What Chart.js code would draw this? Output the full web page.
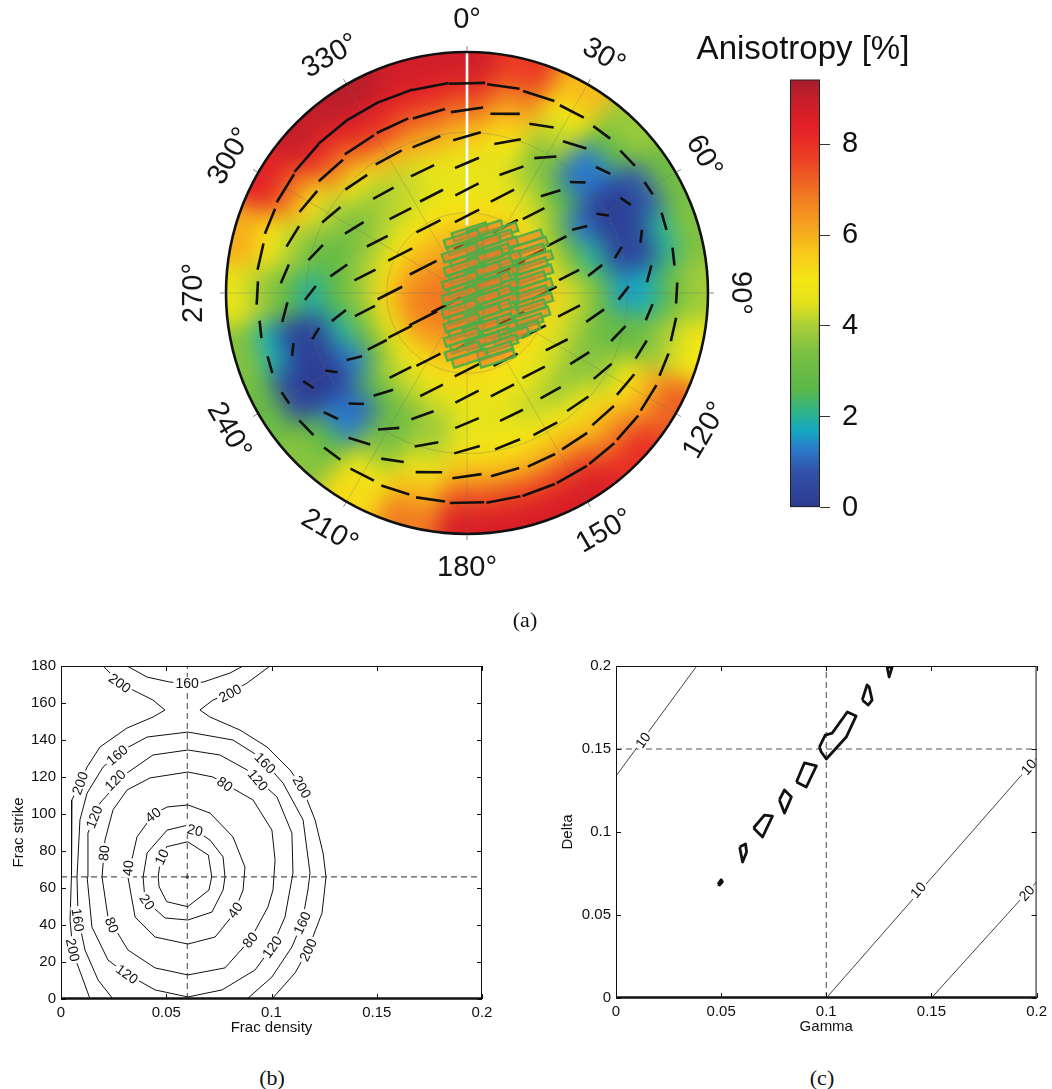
<!DOCTYPE html>
<html>
<head>
<meta charset="utf-8">
<script src="https://cdn.jsdelivr.net/npm/chart.js@4.4.1/dist/chart.umd.min.js"></script>
<style>
  html, body { margin: 0; padding: 0; background: #fff; }
  body { width: 1052px; height: 1089px; position: relative; overflow: hidden; font-family: "Liberation Sans", Arial, sans-serif; }
  canvas { position: absolute; }
  .cap { position: absolute; font-family: "Liberation Serif", "DejaVu Serif", serif; font-size: 22px; color: #111; transform: translate(-50%, -50%); line-height: 1; }
  .cbtitle { position: absolute; left: 803px; top: 47px; transform: translate(-50%, -50%); font-size: 33px; line-height: 1; color: #111; white-space: nowrap; }
</style>
</head>
<body>
<canvas id="polar" width="640" height="640" style="left:147px;top:-27px"></canvas>
<div class="cbtitle">Anisotropy [%]</div>
<canvas id="cbar" width="110" height="487" style="left:780px;top:50px"></canvas>
<canvas id="panelB" width="500" height="401" style="left:0px;top:640px"></canvas>
<canvas id="panelC" width="496" height="400" style="left:556px;top:640px"></canvas>
<div class="cap" style="left:525px;top:620px">(a)</div>
<div class="cap" style="left:272px;top:1078px">(b)</div>
<div class="cap" style="left:822px;top:1078px">(c)</div>

<script>
// ---------- data: panel (a) ----------
// anisotropy [%], one row per azimuth (0..345 step 15),
// columns = incidence rings at r = 0.05 .. 0.95 (fraction of plot radius)
const fieldAz = [0, 15, 30, 45, 60, 75, 90, 105, 120, 135, 150, 165, 180, 195, 210, 225, 240, 255, 270, 285, 300, 315, 330, 345];
const fieldR = [0.05, 0.15, 0.25, 0.35, 0.45, 0.55, 0.65, 0.75, 0.85, 0.95];
const anisoByAzimuth = [
  [6.9, 6.5, 5.8, 5.1, 4.7, 4.7, 5.6, 6.8, 8.0, 8.8],
  [6.9, 6.5, 6.0, 5.2, 4.7, 4.5, 5.0, 5.8, 6.9, 7.8],
  [7.0, 6.7, 6.1, 5.2, 4.5, 3.8, 3.4, 4.2, 5.0, 5.8],
  [7.0, 6.8, 6.3, 5.1, 4.1, 2.8, 1.2, 1.3, 3.0, 3.8],
  [7.0, 6.9, 6.4, 4.9, 3.2, 1.2, 0.2, 0.2, 0.9, 3.2],
  [7.0, 6.9, 6.6, 5.1, 3.5, 2.0, 0.4, 0.4, 2.0, 3.5],
  [7.0, 6.9, 6.6, 5.4, 4.3, 3.2, 1.6, 1.8, 3.0, 3.9],
  [7.0, 6.8, 6.4, 5.2, 4.2, 3.3, 2.9, 3.1, 4.0, 4.9],
  [6.9, 6.6, 6.0, 5.0, 4.2, 3.5, 3.8, 5.0, 6.0, 7.2],
  [6.9, 6.4, 5.8, 5.0, 4.4, 3.7, 4.6, 5.6, 6.8, 8.0],
  [6.9, 6.4, 5.7, 5.0, 4.6, 4.2, 5.0, 6.0, 7.6, 8.6],
  [6.9, 6.4, 5.7, 5.1, 4.7, 4.5, 5.0, 5.8, 7.5, 8.6],
  [6.9, 6.4, 5.8, 5.2, 4.7, 4.6, 4.9, 5.8, 7.4, 8.6],
  [6.9, 6.5, 6.0, 5.2, 4.5, 3.9, 4.0, 4.8, 5.8, 6.8],
  [7.0, 6.7, 6.1, 5.0, 4.3, 3.4, 3.1, 3.6, 4.8, 5.2],
  [7.0, 6.8, 6.3, 5.0, 4.1, 2.8, 1.1, 1.3, 2.8, 3.6],
  [7.0, 6.9, 6.4, 4.8, 3.1, 1.3, 0.2, 0.1, 0.5, 3.0],
  [7.0, 6.9, 6.6, 5.1, 3.5, 2.0, 0.4, 0.3, 1.8, 3.5],
  [7.0, 6.9, 6.5, 5.2, 3.8, 2.7, 1.9, 2.8, 3.8, 4.6],
  [7.0, 6.8, 6.3, 5.1, 3.9, 2.9, 3.0, 4.0, 5.0, 6.0],
  [6.9, 6.6, 6.0, 5.0, 3.8, 3.3, 4.0, 5.2, 7.0, 8.3],
  [6.9, 6.5, 5.8, 5.0, 4.1, 3.8, 4.8, 6.8, 8.2, 9.0],
  [6.9, 6.5, 5.8, 5.0, 4.3, 4.2, 5.8, 7.6, 8.5, 9.2],
  [6.9, 6.5, 5.8, 5.0, 4.6, 4.6, 6.0, 7.2, 8.3, 8.8]
];

// fast-direction ticks: rings of the plotting grid, azimuth step and first azimuth on each ring
const dashRings = [0.87, 0.76, 0.65, 0.54, 0.43, 0.32, 0.21, 0.10];
const dashStep = [10, 12, 15, 20, 20, 30, 60, 180];
const dashStart = [0, 0, 0, 0, 0, 0, 0, 60];
const dashPull = [0.05, 0.3, 0.6, 0.85, 1, 1, 1, 1]; // how far ticks turn toward the fracture strike
const fracStrike = 63;

// observed samples (green boxes), x/y in plot radius units
const sampleRects = [
  [0.012, 0.253], [0.137, 0.253], [0.075, 0.262],
  [-0.021, 0.224], [0.116, 0.224], [0.241, 0.224],
  [-0.008, 0.195], [0.137, 0.195], [0.261, 0.195], [0.066, 0.205],
  [-0.029, 0.166], [0.104, 0.166], [0.249, 0.166],
  [0.004, 0.137], [0.149, 0.137], [0.282, 0.137], [0.075, 0.148],
  [-0.021, 0.108], [0.116, 0.108], [0.261, 0.108],
  [0.000, 0.079], [0.137, 0.079], [0.282, 0.079], [0.066, 0.090],
  [-0.029, 0.050], [0.108, 0.050], [0.253, 0.050],
  [-0.004, 0.021], [0.137, 0.021], [0.282, 0.021], [0.070, 0.032],
  [-0.029, -0.008], [0.112, -0.008], [0.261, -0.008],
  [-0.008, -0.037], [0.137, -0.037], [0.282, -0.037], [0.062, -0.026],
  [-0.029, -0.066], [0.108, -0.066], [0.253, -0.066],
  [-0.004, -0.095], [0.137, -0.095], [0.270, -0.095], [0.066, -0.084],
  [-0.021, -0.124], [0.116, -0.124], [0.241, -0.124],
  [-0.004, -0.154], [0.137, -0.154], [0.228, -0.154], [0.058, -0.143],
  [-0.021, -0.183], [0.108, -0.183], [0.183, -0.180],
  [0.004, -0.212], [0.137, -0.212], [0.066, -0.200],
  [-0.017, -0.241], [0.116, -0.241],
  [0.012, -0.270], [0.124, -0.270]
];
const rectTilt = -18;
const markerLine = [[0, 0.28], [0, 1.0]]; // white line along 0 deg

const polarTicks = [0, 30, 60, 90, 120, 150, 180, 210, 240, 270, 300, 330];

// colour scale
const cbMax = 9.43;
const cbTicks = [0, 2, 4, 6, 8];
const cmapStops = [
  [0.0, [43, 58, 143]], [0.8, [49, 82, 168]], [1.3, [42, 124, 204]], [1.7, [21, 169, 194]],
  [2.1, [47, 179, 138]], [2.6, [90, 184, 73]], [3.4, [120, 191, 66]], [4.0, [169, 207, 56]],
  [4.5, [227, 226, 28]], [5.0, [245, 230, 20]], [5.6, [248, 201, 26]], [6.3, [245, 156, 31]],
  [7.0, [240, 112, 34]], [7.7, [236, 62, 36]], [8.4, [227, 31, 38]], [9.0, [198, 31, 42]],
  [9.5, [166, 29, 43]]
];

// ---------- data: panel (b) ----------
const bDensity = 0.06, bStrike = 66;
const bC10 = [[0.0602,85.0],[0.0700,77.8],[0.0716,66.1],[0.0703,58.9],[0.0602,49.9],[0.0502,52.6],[0.0466,60.7],[0.0462,66.1],[0.0470,73.5],[0.0502,82.3],[0.0602,85.0]];
const bC20 = [[0.0603,94.0],[0.0708,85.9],[0.0770,76.8],[0.0779,65.9],[0.0770,58.9],[0.0717,47.0],[0.0603,42.7],[0.0494,43.8],[0.0399,53.5],[0.0390,65.9],[0.0409,78.9],[0.0504,91.3],[0.0603,94.0]];
const bC40 = [[0.0603,104.9],[0.0708,100.5],[0.0817,87.6],[0.0874,71.3],[0.0865,58.9],[0.0817,45.4],[0.0732,33.5],[0.0603,29.7],[0.0447,33.5],[0.0352,44.3],[0.0318,65.9],[0.0361,87.6],[0.0437,99.5],[0.0504,103.8],[0.0603,104.9]];
const bC80 = [[0.0603,122.7],[0.0722,120.0],[0.0912,107.6],[0.1002,91.3],[0.1017,75.1],[0.1007,58.9],[0.0983,49.7],[0.0898,31.9],[0.0779,16.8],[0.0603,13.0],[0.0447,16.8],[0.0318,26.5],[0.0223,44.3],[0.0195,65.9],[0.0209,85.9],[0.0247,102.2],[0.0314,113.0],[0.0423,119.5],[0.0603,122.7]];
const bC120 = [[0.0603,134.6],[0.0755,131.9],[0.0884,123.8],[0.1026,109.2],[0.1097,89.7],[0.1102,68.1],[0.1064,44.3],[0.1002,28.1],[0.0922,15.7],[0.0765,4.9],[0.0603,1.1],[0.0447,4.9],[0.0304,14.1],[0.0223,21.1],[0.0147,38.9],[0.0124,65.9],[0.0128,89.7],[0.0185,105.9],[0.0314,122.2],[0.0437,131.9],[0.0603,134.6]];
const bC160 = [[0.0247,0],[0.0176,10.3],[0.0114,26.5],[0.0081,44.3],[0.0076,65.9],[0.0090,96.8],[0.0124,111.3],[0.0200,125.4],[0.0295,134.6],[0.0409,141.6],[0.0603,144.3],[0.0817,140.0],[0.0945,130.8],[0.1055,116.7],[0.1150,96.8],[0.1183,68.1],[0.1173,58.9],[0.1145,41.1],[0.1097,28.1],[0.1002,11.9],[0.0884,0]];
const bC160top = [[0.0314,180],[0.0409,174.0],[0.0518,171.3],[0.0599,170.8],[0.0675,171.3],[0.0803,176.2],[0.0865,180]];
const bC200left = [[0.0200,180],[0.0233,176.2],[0.0280,170.8],[0.0342,167.0],[0.0437,161.6],[0.0494,156.2],[0.0437,152.4],[0.0314,146.5],[0.0185,136.2],[0.0124,125.4],[0.0090,116.7],[0.0052,107.6],[0.0048,85.9],[0.0052,68.1],[0.0043,42.7],[0.0057,24.9],[0.0100,11.9],[0.0138,0]];
const bC200right = [[0.0993,180],[0.0884,170.8],[0.0803,165.4],[0.0722,161.6],[0.0660,156.2],[0.0708,152.4],[0.0850,145.4],[0.0979,136.2],[0.1088,123.8],[0.1145,114.6],[0.1207,96.8],[0.1245,78.9],[0.1259,65.9],[0.1240,46.5],[0.1173,26.5],[0.1112,14.1],[0.1002,0]];
const bLabels = [
  ['200', 0.0280, 170.8, 35], ['160', 0.0599, 170.8, 0], ['200', 0.0803, 165.4, -28],
  ['160', 0.0266, 131.9, -40], ['120', 0.0257, 118.4, -45], ['200', 0.0090, 116.7, -70], ['120', 0.0157, 98.4, -68],
  ['40', 0.0437, 99.5, -38], ['20', 0.0637, 91.3, 14], ['10', 0.0478, 76.8, -65], ['80', 0.0204, 78.9, -85], ['40', 0.0318, 70.8, -85],
  ['80', 0.0779, 116.2, 35], ['120', 0.0936, 118.4, 50], ['160', 0.0970, 127.6, 45], ['200', 0.1145, 114.6, 60],
  ['20', 0.0410, 52.5, 55], ['80', 0.0242, 40.0, 68], ['160', 0.0081, 42.7, 82], ['200', 0.0057, 26.5, 78], ['120', 0.0314, 13.5, 35],
  ['40', 0.0827, 48.1, -55], ['80', 0.0898, 31.9, -50], ['120', 0.1002, 28.1, -55], ['160', 0.1145, 41.1, -65], ['200', 0.1173, 26.5, -65]
];

// ---------- data: panel (c) ----------
const cGamma = 0.1, cDelta = 0.15;
const cLine10a = [[0, 0.1337], [0.0384, 0.2]];
const cLine10b = [[0.1, 0], [0.2, 0.1446]];
const cLine20 = [[0.15, 0], [0.2, 0.07]];
const cLoops = [
  [[0.0485,0.0685],[0.0500,0.0712],[0.0506,0.0700],[0.0492,0.0680],[0.0485,0.0685]],
  [[0.0588,0.0910],[0.0616,0.0928],[0.0621,0.0880],[0.0602,0.0819],[0.0588,0.0910]],
  [[0.0654,0.1024],[0.0706,0.1102],[0.0744,0.1096],[0.0697,0.0970],[0.0654,0.1024]],
  [[0.0777,0.1193],[0.0801,0.1253],[0.0834,0.1211],[0.0801,0.1114],[0.0777,0.1193]],
  [[0.0858,0.1301],[0.0896,0.1416],[0.0953,0.1398],[0.0905,0.1271],[0.0858,0.1301]],
  [[0.0967,0.1512],[0.0995,0.1584],[0.1028,0.1596],[0.1100,0.1723],[0.1142,0.1699],[0.1095,0.1572],[0.1000,0.1440],[0.0976,0.1482],[0.0967,0.1512]],
  [[0.1171,0.1795],[0.1194,0.1886],[0.1204,0.1873],[0.1218,0.1795],[0.1199,0.1765],[0.1171,0.1795]],
  [[0.1289,0.1994],[0.1313,0.1994],[0.1299,0.1934],[0.1289,0.1994]]
];
const cLabels = [
  ['10', 0.0128, 0.1554, -54], ['10', 0.1962, 0.1392, -49], ['10', 0.1436, 0.0651, -49], ['20', 0.1953, 0.0633, -48]
];

// ---------- helpers ----------
const FONT = '"Liberation Sans", Arial, sans-serif';
Chart.defaults.font.family = FONT;
Chart.defaults.color = '#111';

function cmap(v) {
  if (v <= cmapStops[0][0]) return 'rgb(' + cmapStops[0][1].join(',') + ')';
  for (let i = 1; i < cmapStops.length; i++) {
    const [v1, c1] = cmapStops[i];
    if (v <= v1) {
      const [v0, c0] = cmapStops[i - 1];
      const t = (v - v0) / (v1 - v0);
      const c = c0.map((a, k) => Math.round(a + (c1[k] - a) * t));
      return 'rgb(' + c.join(',') + ')';
    }
  }
  return 'rgb(' + cmapStops[cmapStops.length - 1][1].join(',') + ')';
}

function anisoAt(az, r) {
  const col = Math.round(((az % 360) + 360) % 360 / 15) % fieldAz.length;
  const row = Math.min(fieldR.length - 1, Math.floor(r / 0.1));
  return anisoByAzimuth[col][row];
}

const rad = d => d * Math.PI / 180;
const pts = arr => arr.map(([x, y]) => ({ x, y }));

// fast-direction ticks
const dashPts = [], dashRad = [], dashRot = [];
dashRings.forEach((r, k) => {
  for (let az = dashStart[k]; az < 360 + dashStart[k]; az += dashStep[k]) {
    const v = anisoAt(az, r);
    const tan = az + 90;
    const d = (((fracStrike - tan) % 180) + 270) % 180 - 90;
    const strike = tan + dashPull[k] * d;
    dashPts.push({ x: r * Math.sin(rad(az)), y: r * Math.cos(rad(az)) });
    dashRad.push((12 + 3 * v) / 2);
    dashRot.push(strike - 90);
  }
});

// green box glyph for the samples
const rectImg = document.createElement('canvas');
rectImg.width = 38; rectImg.height = 11;
(function () {
  const c = rectImg.getContext('2d');
  c.fillStyle = 'rgba(238,120,40,0.55)';
  c.fillRect(2, 2, 34, 7);
  c.strokeStyle = '#45b04a';
  c.lineWidth = 2.2;
  c.strokeRect(1.2, 1.2, 35.6, 8.6);
})();

// ---------- panel (a) polar map ----------
const LIM = 320 / 241;

const polarBackdrop = {
  id: 'polarBackdrop',
  beforeDatasetsDraw(chart) {
    const { ctx, scales: { x, y } } = chart;
    const cx = x.getPixelForValue(0), cy = y.getPixelForValue(0);
    const R = x.getPixelForValue(1) - cx;

    const off = document.createElement('canvas');
    off.width = chart.width; off.height = chart.height;
    const o = off.getContext('2d');
    fieldAz.forEach((az, i) => {
      fieldR.forEach((r, j) => {
        const r0 = j === 0 ? 0 : (r - 0.05) * R - 0.8;
        const r1 = j === fieldR.length - 1 ? 1.2 * R : (r + 0.05) * R + 0.8;
        const a0 = rad(az - 7.5 - 90) - 0.01, a1 = rad(az + 7.5 - 90) + 0.01;
        o.beginPath();
        o.arc(cx, cy, r1, a0, a1);
        o.arc(cx, cy, r0, a1, a0, true);
        o.closePath();
        o.fillStyle = cmap(anisoByAzimuth[i][j]);
        o.fill();
      });
    });

    ctx.save();
    ctx.beginPath();
    ctx.arc(cx, cy, R, 0, 2 * Math.PI);
    ctx.clip();
    ctx.filter = 'blur(11px)';
    ctx.drawImage(off, 0, 0);
    ctx.filter = 'none';

    // faint grid
    ctx.strokeStyle = 'rgba(110,110,110,0.3)';
    ctx.lineWidth = 1;
    polarTicks.forEach(az => {
      ctx.beginPath();
      ctx.moveTo(cx, cy);
      ctx.lineTo(cx + R * Math.sin(rad(az)), cy - R * Math.cos(rad(az)));
      ctx.stroke();
    });
    [1 / 3, 2 / 3].forEach(f => {
      ctx.beginPath();
      ctx.arc(cx, cy, f * R, 0, 2 * Math.PI);
      ctx.stroke();
    });
    ctx.restore();
  },
  afterDatasetsDraw(chart) {
    const { ctx, scales: { x, y } } = chart;
    const cx = x.getPixelForValue(0), cy = y.getPixelForValue(0);
    const R = x.getPixelForValue(1) - cx;
    ctx.save();
    ctx.strokeStyle = '#111';
    ctx.lineWidth = 2.6;
    ctx.beginPath();
    ctx.arc(cx, cy, R, 0, 2 * Math.PI);
    ctx.stroke();

    ctx.strokeStyle = '#888';
    ctx.lineWidth = 1;
    ctx.font = '29px ' + FONT;
    ctx.fillStyle = '#151515';
    ctx.textAlign = 'center';
    ctx.textBaseline = 'middle';
    polarTicks.forEach(az => {
      const s = Math.sin(rad(az)), c = Math.cos(rad(az));
      ctx.beginPath();
      ctx.moveTo(cx + (R + 1.5) * s, cy - (R + 1.5) * c);
      ctx.lineTo(cx + (R + 6) * s, cy - (R + 6) * c);
      ctx.stroke();
      const lr = 1.138 * R;
      const rot = az <= 90 ? az : (az < 270 ? az - 180 : az - 360);
      ctx.save();
      ctx.translate(cx + lr * s, cy - lr * c);
      ctx.rotate(rad(rot));
      ctx.fillText(az + '°', 0, 1);
      ctx.restore();
    });
    ctx.restore();
  }
};

new Chart(document.getElementById('polar'), {
  type: 'scatter',
  data: {
    datasets: [
      {
        label: 'samples', data: pts(sampleRects), order: 0,
        pointStyle: rectImg, pointRotation: rectTilt, pointRadius: 10
      },
      {
        label: 'fast direction', data: dashPts, order: 1,
        pointStyle: 'line', pointRadius: dashRad, pointRotation: dashRot,
        pointBorderColor: '#111', pointBackgroundColor: '#111', pointBorderWidth: 2.6
      },
      {
        label: 'marker', data: pts(markerLine), order: 2, showLine: true,
        borderColor: '#ffffff', borderWidth: 2.6, pointRadius: 0
      }
    ]
  },
  options: {
    responsive: false, animation: false, devicePixelRatio: 1, events: [],
    layout: { padding: 0, autoPadding: false },
    plugins: { legend: { display: false }, tooltip: { enabled: false } },
    scales: {
      x: { type: 'linear', min: -LIM, max: LIM, display: false },
      y: { type: 'linear', min: -LIM, max: LIM, display: false }
    }
  },
  plugins: [polarBackdrop]
});

// ---------- colour bar ----------
new Chart(document.getElementById('cbar'), {
  type: 'bar',
  data: {
    labels: [''],
    datasets: [{
      data: [[0, cbMax]],
      backgroundColor(c) {
        const ch = c.chart;
        const ys = ch.scales.y;
        if (!ch.chartArea || !ys) return '#888';
        const g = ch.ctx.createLinearGradient(0, ys.getPixelForValue(0), 0, ys.getPixelForValue(cbMax));
        cmapStops.forEach(([v, col]) => g.addColorStop(Math.min(1, v / cbMax), 'rgb(' + col.join(',') + ')'));
        return g;
      },
      borderColor: '#222', borderWidth: 1.5, borderSkipped: false,
      barPercentage: 1, categoryPercentage: 1
    }]
  },
  options: {
    responsive: false, animation: false, devicePixelRatio: 1, events: [],
    layout: { padding: { left: 10, right: 0, top: 19, bottom: 20 }, autoPadding: false },
    plugins: { legend: { display: false }, tooltip: { enabled: false } },
    scales: {
      x: { display: false },
      y: {
        position: 'right', min: 0, max: cbMax,
        border: { display: false },
        grid: { drawOnChartArea: false, drawTicks: true, tickLength: 10, color: '#333', lineWidth: 1 },
        afterBuildTicks(s) { s.ticks = cbTicks.map(v => ({ value: v })); },
        ticks: { padding: 12, font: { size: 29 }, color: '#111' },
        afterFit(s) { s.width = 70; }
      }
    }
  }
});

// ---------- panels (b) and (c) ----------
const matlabAxes = {
  id: 'matlabAxes',
  afterDatasetsDraw(chart, args, opts) {
    const { ctx, chartArea: a, scales: { x, y } } = chart;
    ctx.save();
    (opts.labels || []).forEach(([t, lx, ly, rot]) => {
      const px = x.getPixelForValue(lx), py = y.getPixelForValue(ly);
      ctx.save();
      ctx.translate(px, py);
      ctx.rotate(rad(rot));
      ctx.font = '14px ' + FONT;
      const w = ctx.measureText(t).width;
      ctx.fillStyle = '#fff';
      ctx.fillRect(-w / 2 - 2, -6, w + 4, 12);
      ctx.fillStyle = '#111';
      ctx.textAlign = 'center';
      ctx.textBaseline = 'middle';
      ctx.fillText(t, 0, 1);
      ctx.restore();
    });
    ctx.strokeStyle = '#111';
    ctx.lineWidth = 1;
    ctx.strokeRect(a.left + 0.5, a.top + 0.5, a.right - a.left - 1, a.bottom - a.top - 1);
    ctx.lineWidth = 2.4;
    ctx.beginPath();
    ctx.moveTo(a.left, a.bottom - 0.5);
    ctx.lineTo(a.right, a.bottom - 0.5);
    ctx.stroke();
    ctx.lineWidth = 1;
    x.ticks.forEach(t => {
      const px = Math.round(x.getPixelForValue(t.value)) + 0.5;
      ctx.beginPath();
      ctx.moveTo(px, a.bottom); ctx.lineTo(px, a.bottom - 5);
      ctx.moveTo(px, a.top); ctx.lineTo(px, a.top + 5);
      ctx.stroke();
    });
    y.ticks.forEach(t => {
      const py = Math.round(y.getPixelForValue(t.value)) + 0.5;
      ctx.beginPath();
      ctx.moveTo(a.left, py); ctx.lineTo(a.left + 5, py);
      ctx.moveTo(a.right, py); ctx.lineTo(a.right - 5, py);
      ctx.stroke();
    });
    ctx.restore();
  }
};

const fmt = v => String(Math.round(v * 100) / 100);

function curve(arr, w, extra) {
  return Object.assign({
    data: pts(arr), showLine: true, pointRadius: 0,
    borderColor: '#111', borderWidth: w, tension: 0, fill: false
  }, extra || {});
}

function axesOptions(o) {
  return {
    responsive: false, animation: false, devicePixelRatio: 1, events: [],
    layout: { padding: { left: 0, top: 26, right: o.padRight, bottom: 0 }, autoPadding: false },
    plugins: { legend: { display: false }, tooltip: { enabled: false }, matlabAxes: { labels: o.labels } },
    scales: {
      x: {
        type: 'linear', min: 0, max: 0.2,
        grid: { display: false, drawTicks: false }, border: { display: false },
        ticks: { stepSize: 0.05, padding: 5, font: { size: 15 }, color: '#111', callback: fmt, maxRotation: 0 },
        title: { display: true, text: o.xTitle, font: { size: 15 }, color: '#111', padding: { top: 4, bottom: 4 } },
        afterFit(s) { s.height = 42; }
      },
      y: {
        type: 'linear', min: 0, max: o.yMax,
        grid: { display: false, drawTicks: false }, border: { display: false },
        ticks: { stepSize: o.yStep, padding: 5, font: { size: 15 }, color: '#111', callback: fmt },
        title: { display: true, text: o.yTitle, font: { size: 15 }, color: '#111', padding: { top: o.yTitlePad, bottom: 4 } },
        afterFit(s) { s.width = o.yWidth; }
      }
    }
  };
}

new Chart(document.getElementById('panelB'), {
  type: 'scatter',
  data: {
    datasets: [
      curve(bC10, 1), curve(bC20, 1), curve(bC40, 1), curve(bC80, 1), curve(bC120, 1),
      curve(bC160, 1), curve(bC160top, 1), curve(bC200left, 1), curve(bC200right, 1),
      curve([[bDensity, 0], [bDensity, 180]], 1.1, { borderColor: '#555', borderDash: [6, 4] }),
      curve([[0, bStrike], [0.2, bStrike]], 1.1, { borderColor: '#555', borderDash: [6, 4] }),
      { data: pts([[bDensity, bStrike]]), pointRadius: 1.6, pointBackgroundColor: '#111', pointBorderWidth: 0 }
    ]
  },
  options: axesOptions({ xTitle: 'Frac density', yTitle: 'Frac strike', yMax: 180, yStep: 20, yWidth: 61, yTitlePad: 10, padRight: 18, labels: bLabels }),
  plugins: [matlabAxes]
});

new Chart(document.getElementById('panelC'), {
  type: 'scatter',
  data: {
    datasets: [
      curve(cLine10a, 0.8), curve(cLine10b, 0.8), curve(cLine20, 0.8),
      ...cLoops.map(l => curve(l, 2.8, { borderJoinStyle: 'round' })),
      curve([[cGamma, 0], [cGamma, 0.2]], 1.1, { borderColor: '#555', borderDash: [6, 4] }),
      curve([[0, cDelta], [0.2, cDelta]], 1.1, { borderColor: '#555', borderDash: [6, 4] })
    ]
  },
  options: axesOptions({ xTitle: 'Gamma', yTitle: 'Delta', yMax: 0.2, yStep: 0.05, yWidth: 60, yTitlePad: 3, padRight: 14, labels: cLabels }),
  plugins: [matlabAxes]
});
</script>
</body>
</html>
